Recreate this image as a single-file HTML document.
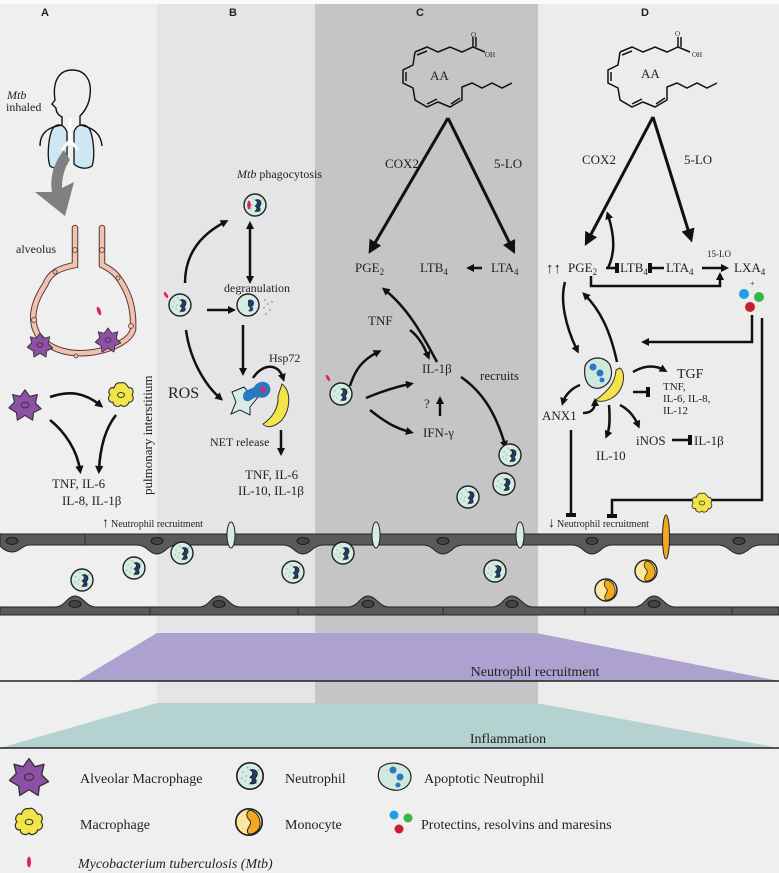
<!DOCTYPE html>
<html><head><meta charset="utf-8"><style>
html,body{margin:0;padding:0;background:#efefef}
svg{display:block}
text{font-family:"Liberation Serif",serif;fill:#222}
.s{font-family:"Liberation Sans",sans-serif;font-weight:bold}
</style></head><body>
<svg width="779" height="873" viewBox="0 0 779 873" xmlns="http://www.w3.org/2000/svg">
<defs>
<marker id="ah" viewBox="0 0 10 10" refX="5" refY="5" markerWidth="3.2" markerHeight="3.2" orient="auto-start-reverse"><path d="M0,0 L10,5 L0,10 z" fill="#111"/></marker>
<marker id="ahb" viewBox="0 0 10 10" refX="5" refY="5" markerWidth="4.5" markerHeight="4.5" orient="auto"><path d="M0,0 L10,5 L0,10 z" fill="#111"/></marker>
<marker id="tb" viewBox="0 0 4 10" refX="2" refY="5" markerWidth="2" markerHeight="4" orient="auto"><rect x="0" y="0" width="4" height="10" fill="#111"/></marker>
<g id="neu"><circle r="11" fill="#d7ece4" stroke="#222" stroke-width="1.4"/>
<g fill="#6a8"><circle cx="-6" cy="-3" r=".6"/><circle cx="-4" cy="4" r=".6"/><circle cx="-7" cy="2" r=".6"/><circle cx="-2" cy="-7" r=".6"/><circle cx="0" cy="7" r=".6"/><circle cx="5" cy="6" r=".6"/><circle cx="-3" cy="0" r=".6"/><circle cx="7" cy="-5" r=".6"/></g>
<path d="M0,-5 C6,-7 8,-1 4,2 C7,4 4,8 0,6 C3,4 2,2 0,1 C3,-1 3,-4 0,-5z" fill="#1f3f6a" stroke="#111" stroke-width=".6"/></g>
<g id="mono"><circle r="11" fill="#fbe7a0" stroke="#222" stroke-width="1.4"/><path d="M1,-10 C8,-8 11,0 8,6 C5,10 0,11 -1,9 C-3,5 4,2 0,-2 C-3,-5 -2,-9 1,-10z" fill="#f2a91f" stroke="#222" stroke-width=".8"/></g>
<g id="amac"><path d="M0,-16 L5,-9 L13,-11 L11,-2 L17,4 L9,8 L8,16 L0,11 L-8,16 L-9,8 L-17,3 L-11,-3 L-13,-11 L-5,-9z" fill="#8e4fa6" stroke="#333" stroke-width="1.2" stroke-linejoin="round"/><ellipse rx="4" ry="3" fill="none" stroke="#333"/></g>
<g id="mac"><path d="M0,-12 C4,-14 6,-9 8,-7 C12,-8 13,-3 11,0 C14,3 11,8 8,7 C7,11 2,13 0,10 C-3,13 -8,11 -8,7 C-12,8 -14,3 -11,0 C-14,-4 -10,-9 -7,-7 C-6,-11 -3,-13 0,-12z" fill="#f3e44a" stroke="#333" stroke-width="1.1"/><ellipse rx="3.5" ry="2.5" fill="none" stroke="#333"/></g>
<g id="aa" fill="none" stroke="#111" stroke-width="1.5"><polyline points="620,52 632,47 643,52 655,47 667,52 678,47 690,52"/><polyline points="620,52 618,65 608,70 608,83 618,88 620,100 632,107 643,102 655,107 667,100 667,87 677,83 687,88 697,83 707,88 717,83"/><line x1="678" y1="47" x2="678" y2="37"/><line x1="681" y1="47" x2="681" y2="37"/><line x1="622" y1="55" x2="632" y2="51"/><line x1="611" y1="72" x2="611" y2="81"/><line x1="632" y1="104" x2="642" y2="99"/><line x1="656" y1="104" x2="665" y2="98"/></g>
</defs>

<rect width="779" height="873" fill="#efefef"/>
<rect x="157" y="0" width="158" height="748" fill="#e5e5e7"/>
<rect x="315" y="0" width="223" height="748" fill="#c5c5c7"/>
<rect x="538" y="0" width="241" height="748" fill="#ececec"/>
<rect x="0" y="0" width="779" height="4" fill="#fafafa"/>

<text class="s" x="45" y="16" font-size="11" text-anchor="middle">A</text>
<text class="s" x="233" y="16" font-size="11" text-anchor="middle">B</text>
<text class="s" x="420" y="16" font-size="11" text-anchor="middle">C</text>
<text class="s" x="645" y="16" font-size="11" text-anchor="middle">D</text>

<!-- Panel A -->
<path d="M52,130 C48,140 47,158 50,166 C56,170 62,168 67,164 L67,132 C64,124 56,122 52,130z M74,132 C76,124 86,122 90,130 C94,140 95,158 92,166 C86,170 78,168 74,164z" fill="#cfe6f5" stroke="#111" stroke-width="1.3"/>
<path d="M40,146 C40,133 48,127 62,125 L62,117 C58,115 56,112 56,108 L52,104 L55,100 C52,80 60,70 72,70 C85,70 92,80 90,95 C89,105 84,112 80,116 L80,125 C95,128 101,135 102,146" fill="none" stroke="#111" stroke-width="1.4"/>
<path d="M70,118 L70,145 M70,140 L62,150 M70,140 L78,150" stroke="#fff" stroke-width="3" fill="none"/>
<path d="M64,150 C52,165 50,180 52,192 L35,192 L65,216 L74,182 L62,188 C62,175 66,165 70,160z" fill="#808080"/>
<text x="7" y="99" font-size="12" font-style="italic">Mtb</text><text x="6" y="111" font-size="12">inhaled</text>
<text x="16" y="253" font-size="12">alveolus</text>
<path d="M75,228 L75,265 C60,268 50,272 45,285 C35,300 28,318 38,335 C50,350 70,356 95,352 C115,348 130,340 133,330 C134,310 130,295 120,280 C115,272 108,268 102,265 L102,228" fill="none" stroke="#5a3a30" stroke-width="6.5" stroke-linecap="round"/>
<path d="M75,228 L75,265 C60,268 50,272 45,285 C35,300 28,318 38,335 C50,350 70,356 95,352 C115,348 130,340 133,330 C134,310 130,295 120,280 C115,272 108,268 102,265 L102,228" fill="none" stroke="#f0c2b2" stroke-width="4.5" stroke-linecap="round"/>
<g fill="#f0c2b2" stroke="#5a3a30" stroke-width=".8"><circle cx="75" cy="250" r="2.5"/><circle cx="102" cy="250" r="2.5"/><circle cx="55" cy="272" r="2"/><circle cx="118" cy="278" r="2"/><circle cx="34" cy="320" r="2.5"/><circle cx="76" cy="356" r="2"/><circle cx="131" cy="326" r="2.5"/></g>
<use href="#amac" transform="translate(40,345) scale(.75)"/>
<use href="#amac" transform="translate(108,340) scale(.75)"/>
<ellipse cx="99" cy="311" rx="1.8" ry="4.5" fill="#e0206a" transform="rotate(-20 99 311)"/>
<use href="#amac" transform="translate(25,405) scale(.95)"/>
<use href="#mac" transform="translate(121,395)"/>
<g fill="none" stroke="#111" stroke-width="2.6">
<path d="M50,397 C70,390 85,393 100,405" marker-end="url(#ah)"/>
<path d="M50,420 C65,432 77,450 80,470" marker-end="url(#ah)"/>
<path d="M116,415 C104,430 100,450 99,470" marker-end="url(#ah)"/>
</g>
<text x="52" y="488" font-size="13">TNF, IL-6</text>
<text x="62" y="505" font-size="13">IL-8, IL-1β</text>
<text x="152" y="495" font-size="13" transform="rotate(-90 152 495)">pulmonary interstitium</text>

<!-- Panel B -->
<text x="237" y="178" font-size="12"><tspan font-style="italic">Mtb</tspan> phagocytosis</text>
<use href="#neu" transform="translate(255,205)"/>
<ellipse cx="249" cy="205" rx="1.8" ry="4.5" fill="#e0206a"/>
<text x="224" y="292" font-size="12">degranulation</text>
<use href="#neu" transform="translate(180,305)"/>
<ellipse cx="166" cy="295" rx="1.5" ry="3.5" fill="#e0206a" transform="rotate(-30 166 295)"/>
<circle cx="248" cy="305" r="11" fill="#d7ece4" stroke="#222" stroke-width="1.4"/>
<path d="M248,300 C254,298 256,304 252,307 C255,309 252,313 248,311 C251,309 250,307 248,306z" fill="#1f3f6a"/>
<g fill="#444"><circle cx="265" cy="300" r=".6"/><circle cx="268" cy="304" r=".6"/><circle cx="264" cy="308" r=".6"/><circle cx="270" cy="310" r=".6"/><circle cx="266" cy="314" r=".6"/><circle cx="272" cy="302" r=".6"/></g>
<g fill="none" stroke="#111" stroke-width="2.5">
<path d="M185,283 C185,255 200,235 225,222" marker-end="url(#ah)"/>
<path d="M250,225 L250,280" marker-end="url(#ah)" marker-start="url(#ah)"/>
<path d="M207,310 L232,310" marker-end="url(#ah)"/>
<path d="M186,330 C190,360 205,385 220,398" marker-end="url(#ah)"/>
<path d="M243,325 L243,372" marker-end="url(#ah)"/>
<path d="M253,378 C262,364 278,362 283,378" marker-end="url(#ah)"/>
<path d="M281,430 L281,452" marker-end="url(#ah)"/>
</g>
<text x="168" y="398" font-size="16">ROS</text>
<text x="269" y="362" font-size="12">Hsp72</text>
<path d="M232,392 L244,387 L250,394 L258,397 L250,407 L250,415 L240,410 L231,414 L236,402z" fill="#d7ece4" stroke="#222" stroke-width="1"/>
<path d="M244,400 C240,390 250,390 254,387 C258,380 268,380 270,387 C272,394 265,400 258,397 C252,397 250,404 244,400z" fill="#2a78c0"/>
<ellipse cx="263" cy="390" rx="2" ry="4" fill="#e0206a"/>
<path d="M282,384 C292,392 290,410 282,420 C274,428 266,428 263,424 C272,418 279,408 278,396z" fill="#f3e44a" stroke="#333" stroke-width="1"/>
<text x="210" y="446" font-size="12">NET release</text>
<text x="245" y="479" font-size="13">TNF, IL-6</text>
<text x="238" y="495" font-size="13">IL-10, IL-1β</text>

<!-- Panel C -->
<use href="#aa" transform="translate(-205,0)"/>
<text x="471" y="37" font-size="7">O</text><text x="485" y="57" font-size="7">OH</text>
<text x="430" y="80" font-size="13">AA</text>
<text x="385" y="168" font-size="13">COX2</text><text x="494" y="168" font-size="13">5-LO</text>
<g fill="none" stroke="#111" stroke-width="3">
<path d="M448,118 L372,248" marker-end="url(#ahb)"/>
<path d="M448,118 L512,248" marker-end="url(#ahb)"/>
</g>
<text x="355" y="272" font-size="13">PGE<tspan font-size="9" dy="3">2</tspan></text>
<text x="420" y="272" font-size="13">LTB<tspan font-size="9" dy="3">4</tspan></text>
<text x="491" y="272" font-size="13">LTA<tspan font-size="9" dy="3">4</tspan></text>
<g fill="none" stroke="#111" stroke-width="2.5">
<path d="M482,268 L470,268" marker-end="url(#ah)"/>
<path d="M437,362 C425,340 410,310 385,290" marker-end="url(#ah)"/>
<path d="M350,386 C355,370 362,360 378,352" marker-end="url(#ah)"/>
<path d="M410,330 C418,336 424,346 428,356" marker-end="url(#ah)"/>
<path d="M366,398 C385,390 400,386 410,384" marker-end="url(#ah)"/>
<path d="M370,410 C385,422 395,428 410,432" marker-end="url(#ah)"/>
<path d="M440,416 L440,400" marker-end="url(#ah)"/>
<path d="M461,377 C480,390 495,410 505,445" marker-end="url(#ah)"/>
</g>
<text x="368" y="325" font-size="13">TNF</text>
<text x="422" y="373" font-size="13">IL-1β</text>
<text x="480" y="380" font-size="13">recruits</text>
<text x="424" y="408" font-size="13">?</text>
<text x="423" y="437" font-size="13">IFN-γ</text>
<use href="#neu" transform="translate(341,394)"/>
<ellipse cx="328" cy="378" rx="1.5" ry="3.5" fill="#e0206a" transform="rotate(-30 328 378)"/>
<use href="#neu" transform="translate(510,455)"/>
<use href="#neu" transform="translate(504,484)"/>
<use href="#neu" transform="translate(468,497)"/>

<!-- Panel D -->
<use href="#aa"/>
<text x="675" y="36" font-size="7">O</text><text x="692" y="57" font-size="7">OH</text>
<text x="641" y="78" font-size="13">AA</text>
<text x="582" y="164" font-size="13">COX2</text><text x="684" y="164" font-size="13">5-LO</text>
<g fill="none" stroke="#111" stroke-width="3">
<path d="M653,117 L588,240" marker-end="url(#ahb)"/>
<path d="M653,117 L690,236" marker-end="url(#ahb)"/>
</g>
<text x="546" y="273" font-size="15" font-weight="bold">↑↑</text>
<text x="568" y="272" font-size="13">PGE<tspan font-size="9" dy="3">2</tspan></text>
<text x="620" y="272" font-size="13">LTB<tspan font-size="9" dy="3">4</tspan></text>
<text x="666" y="272" font-size="13">LTA<tspan font-size="9" dy="3">4</tspan></text>
<text x="707" y="257" font-size="9">15-LO</text>
<text x="734" y="272" font-size="13">LXA<tspan font-size="9" dy="3">4</tspan></text>
<text x="750" y="286" font-size="8">+</text>
<g fill="none" stroke="#111" stroke-width="2.5">
<path d="M606,268 L617,268" marker-end="url(#tb)"/>
<path d="M608,268 C614,255 616,240 608,215" marker-end="url(#ah)"/>
<path d="M650,268 L664,268" marker-start="url(#tb)"/>
<path d="M702,268 L725,268" marker-end="url(#ah)"/>
<path d="M591,276 L591,286 L720,286 L720,276" marker-end="url(#ah)"/>
<path d="M565,282 C560,300 565,325 577,350" marker-end="url(#ah)"/>
<path d="M617,362 C610,330 600,310 585,295" marker-end="url(#ah)"/>
<path d="M752,315 L752,342 L645,342" marker-end="url(#ah)"/>
<path d="M762,318 L762,500 L612,500 L612,516" marker-end="url(#tb)"/>
<path d="M571,430 L571,515" marker-end="url(#tb)"/>
<path d="M633,372 C645,365 655,365 664,370" marker-end="url(#ah)"/>
<path d="M633,392 L648,392" marker-end="url(#tb)"/>
<path d="M620,405 C630,410 635,418 638,425" marker-end="url(#ah)"/>
<path d="M609,405 C610,418 610,428 607,435" marker-end="url(#ah)"/>
<path d="M580,385 C572,388 565,395 563,402" marker-end="url(#ah)"/>
<path d="M583,413 C592,413 595,408 595,402" marker-end="url(#ah)"/>
<path d="M672,440 L690,440" marker-end="url(#tb)"/>
</g>
<circle cx="744" cy="294" r="5" fill="#1da0e6"/><circle cx="759" cy="297" r="5" fill="#3ab54a"/><circle cx="750" cy="307" r="5" fill="#c8202e"/>
<path d="M585,366 C590,355 605,356 610,365 C614,375 610,385 600,388 C590,390 583,382 585,366z" fill="#cfe9df" stroke="#222" stroke-width="1.2"/>
<circle cx="593" cy="367" r="3.5" fill="#2a78c0"/><circle cx="600" cy="373" r="3.5" fill="#2a78c0"/><circle cx="602" cy="380" r="2.5" fill="#2a78c0"/>
<path d="M620,368 C626,372 625,390 612,398 C605,402 598,402 596,400 C606,392 615,385 616,370z" fill="#f3e44a" stroke="#333" stroke-width="1"/>
<text x="677" y="378" font-size="14">TGF</text>
<text x="663" y="390" font-size="11">TNF,</text>
<text x="663" y="402" font-size="11">IL-6, IL-8,</text>
<text x="663" y="414" font-size="11">IL-12</text>
<text x="542" y="420" font-size="13">ANX1</text>
<text x="596" y="460" font-size="13">IL-10</text>
<text x="636" y="445" font-size="13">iNOS</text>
<text x="694" y="445" font-size="13">IL-1β</text>
<use href="#mac" transform="translate(702,503) scale(.8)"/>

<!-- vessel -->
<path d="M0,534 L779,534 L779,545 L760,545 C750,545 747,554 739,554 C731,554 728,545 718,545 L612,545 C602,545 600,554 592,554 C584,554 582,545 572,545 L463,545 C453,545 451,554 443,554 C435,554 433,545 423,545 L323,545 C313,545 311,554 303,554 C295,554 293,545 283,545 L177,545 C167,545 165,554 157,554 C149,554 147,545 137,545 L30,545 C22,545 20,552 12,552 C6,552 2,548 0,546z" fill="#5a5a5c" stroke="#222" stroke-width="1"/>
<path d="M0,607 L55,607 C65,607 67,596 75,596 C83,596 86,607 96,607 L199,607 C209,607 211,596 219,596 C227,596 230,607 240,607 L348,607 C358,607 360,596 368,596 C376,596 379,607 389,607 L492,607 C502,607 504,596 512,596 C520,596 523,607 533,607 L634,607 C644,607 646,596 654,596 C662,596 665,607 675,607 L779,607 L779,615 L0,615z" fill="#5a5a5c" stroke="#222" stroke-width="1"/>
<g stroke="#222" stroke-width=".8"><line x1="85" y1="534" x2="85" y2="545"/><line x1="150" y1="607" x2="150" y2="615"/><line x1="298" y1="607" x2="298" y2="615"/><line x1="443" y1="607" x2="443" y2="615"/><line x1="585" y1="607" x2="585" y2="615"/><line x1="732" y1="607" x2="732" y2="615"/></g>
<g fill="#444" stroke="#111" stroke-width=".8">
<ellipse cx="12" cy="541" rx="6" ry="3.5"/><ellipse cx="157" cy="541" rx="6" ry="3.5"/><ellipse cx="303" cy="541" rx="6" ry="3.5"/><ellipse cx="443" cy="541" rx="6" ry="3.5"/><ellipse cx="592" cy="541" rx="6" ry="3.5"/><ellipse cx="739" cy="541" rx="6" ry="3.5"/>
<ellipse cx="75" cy="604" rx="6" ry="3.5"/><ellipse cx="219" cy="604" rx="6" ry="3.5"/><ellipse cx="368" cy="604" rx="6" ry="3.5"/><ellipse cx="512" cy="604" rx="6" ry="3.5"/><ellipse cx="654" cy="604" rx="6" ry="3.5"/>
</g>
<g fill="#d7ece4" stroke="#222" stroke-width="1">
<ellipse cx="231" cy="535" rx="4" ry="13"/><ellipse cx="376" cy="535" rx="4" ry="13"/><ellipse cx="520" cy="535" rx="4" ry="13"/>
</g>
<ellipse cx="666" cy="537" rx="3.5" ry="22" fill="#f2a91f" stroke="#222" stroke-width="1"/>
<text x="102" y="527" font-size="14" font-weight="bold">↑</text><text x="111" y="527" font-size="10">Neutrophil recruitment</text>
<text x="548" y="527" font-size="14" font-weight="bold">↓</text><text x="557" y="527" font-size="10">Neutrophil recruitment</text>
<use href="#neu" transform="translate(82,580)"/>
<use href="#neu" transform="translate(134,568)"/>
<use href="#neu" transform="translate(182,553)"/>
<use href="#neu" transform="translate(293,572)"/>
<use href="#neu" transform="translate(343,553)"/>
<use href="#neu" transform="translate(495,571)"/>
<use href="#mono" transform="translate(646,571)"/>
<use href="#mono" transform="translate(606,590)"/>

<!-- bands -->
<polygon points="157,633 536,633 779,681 77,681" fill="#aca1cf"/>
<line x1="0" y1="681" x2="779" y2="681" stroke="#222" stroke-width="1.5"/>
<text x="535" y="676" font-size="14" text-anchor="middle">Neutrophil recruitment</text>
<polygon points="157,703 536,703 779,748 0,748" fill="#b3d2d0"/>
<line x1="0" y1="748" x2="779" y2="748" stroke="#222" stroke-width="1.5"/>
<text x="508" y="743" font-size="14" text-anchor="middle">Inflammation</text>
<rect x="0" y="749" width="779" height="124" fill="#efefef"/>

<!-- legend -->
<use href="#amac" transform="translate(29,777) scale(1.15)"/>
<text x="80" y="783" font-size="14">Alveolar Macrophage</text>
<use href="#neu" transform="translate(250,776) scale(1.2)"/>
<text x="285" y="783" font-size="14">Neutrophil</text>
<path d="M380,768 C388,760 405,762 410,772 C414,782 405,792 393,790 C382,788 375,780 380,768z" fill="#cfe9df" stroke="#222" stroke-width="1.2"/>
<circle cx="393" cy="770" r="3.5" fill="#2a78c0"/><circle cx="400" cy="777" r="3.5" fill="#2a78c0"/><circle cx="398" cy="785" r="2.5" fill="#2a78c0"/>
<text x="424" y="783" font-size="14">Apoptotic Neutrophil</text>
<use href="#mac" transform="translate(29,822) scale(1.1)"/>
<text x="80" y="829" font-size="14">Macrophage</text>
<use href="#mono" transform="translate(249,822) scale(1.2)"/>
<text x="285" y="829" font-size="14">Monocyte</text>
<circle cx="394" cy="815" r="4.5" fill="#1da0e6"/><circle cx="408" cy="818" r="4.5" fill="#3ab54a"/><circle cx="399" cy="829" r="4.5" fill="#c8202e"/>
<text x="421" y="829" font-size="14">Protectins, resolvins and maresins</text>
<ellipse cx="29" cy="862" rx="2" ry="5.5" fill="#e0206a"/>
<text x="78" y="868" font-size="14" font-style="italic">Mycobacterium tuberculosis (Mtb)</text>
</svg>
</body></html>
